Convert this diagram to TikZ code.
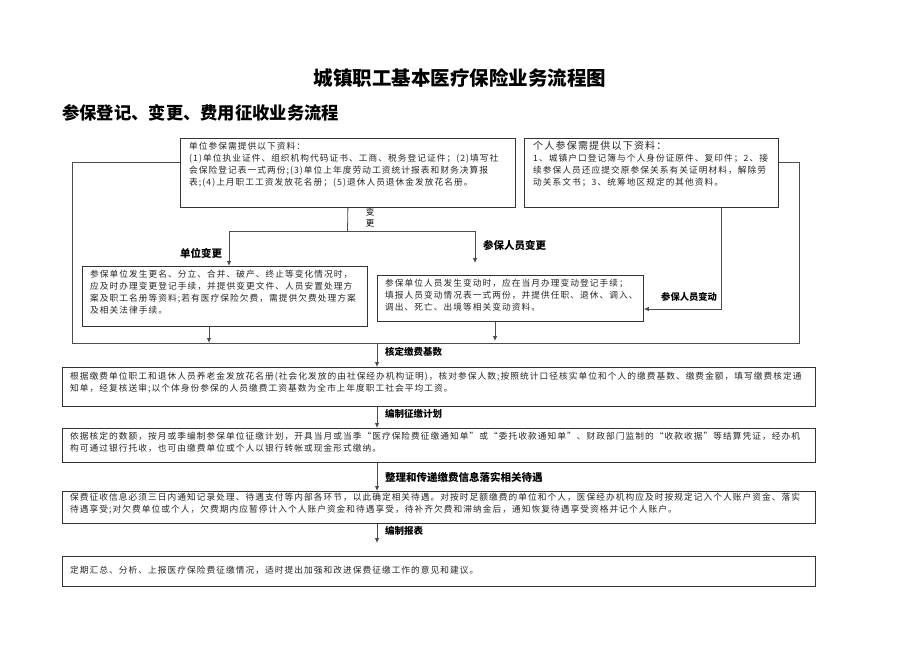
\documentclass[tikz,border=0pt]{standalone}
\usepackage{fontspec}
\setmainfont{Noto Sans CJK SC}
\newfontfamily\bodyfont[LetterSpace=12]{Noto Sans CJK SC}
\usetikzlibrary{arrows.meta}
\begin{document}
\begin{tikzpicture}[x=1pt,y=-1pt,
  box/.style={draw=black!80, line width=0.8pt, anchor=north west, inner sep=0pt, fill=white},
  txt/.style={anchor=north west, inner sep=0pt, align=left, font=\bodyfont\fontsize{8.7}{12}\selectfont, text=black!85},
  lbl/.style={inner sep=0pt, anchor=west, font=\bfseries\fontsize{9.5}{11}\selectfont},
  conn/.style={draw=black!70, line width=0.8pt},
  arr/.style={conn, -{Latex[length=5pt,width=4.5pt]}},
]
\useasboundingbox[fill=white] (0,0) rectangle (920,651);

% titles
\node[inner sep=0pt, font=\bfseries\fontsize{19.5}{22}\selectfont] (title) at (460,78) {城镇职工基本医疗保险业务流程图};
\node[inner sep=0pt, anchor=west, font=\bfseries\fontsize{17.3}{20}\selectfont] (sub) at (62,113) {参保登记、变更、费用征收业务流程};

% frame coordinates
\coordinate (fTL) at (72,162);
\coordinate (fBL) at (72,343);
\coordinate (fBR) at (799,343);
\coordinate (fTR) at (799,162);

% boxes
\node[box, minimum width=335pt, minimum height=69pt] (b1) at (180,138) {};
\node[box, minimum width=254pt, minimum height=69pt] (b2) at (524,138) {};
\node[box, minimum width=285pt, minimum height=60pt] (b3) at (82,266) {};
\node[box, minimum width=266pt, minimum height=46pt] (b4) at (377,275) {};
\node[box, minimum width=753pt, minimum height=39pt] (b5) at (62,367) {};
\node[box, minimum width=753pt, minimum height=34pt] (b6) at (62,428) {};
\node[box, minimum width=753pt, minimum height=32pt] (b7) at (62,491) {};
\node[box, minimum width=753pt, minimum height=30pt] (b8) at (62,556) {};

% frame around the change section
\path[conn] (b1.west |- fTL) -- (fTL) -- (fBL) -- (fBR) -- (fTR) -- (b2.east |- fTR);

% box texts
\node[txt] (t1) at ([shift={(9,3.5)}]b1.north west) {单位参保需提供以下资料：\\(1)单位执业证件、组织机构代码证书、工商、税务登记证件；(2)填写社\\会保险登记表一式两份;(3)单位上年度劳动工资统计报表和财务决算报\\表;(4)上月职工工资发放花名册；(5)退休人员退休金发放花名册。};
\node[txt] (t2) at ([shift={(9,2.5)}]b2.north west) {{\fontsize{10}{12}\selectfont 个人参保需提供以下资料：}\\1、城镇户口登记簿与个人身份证原件、复印件；2、接\\续参保人员还应提交原参保关系有关证明材料，解除劳\\动关系文书；3、统筹地区规定的其他资料。};
\node[txt] (t3) at ([shift={(8,3.5)}]b3.north west) {参保单位发生更名、分立、合并、破产、终止等变化情况时，\\应及时办理变更登记手续，并提供变更文件、人员安置处理方\\案及职工名册等资料;若有医疗保险欠费，需提供欠费处理方案\\及相关法律手续。};
\node[txt] (t4) at ([shift={(8,3.5)}]b4.north west) {参保单位人员发生变动时，应在当月办理变动登记手续；\\填报人员变动情况表一式两份，并提供任职、退休、调入、\\调出、死亡、出境等相关变动资料。};
\node[txt] (t5) at ([shift={(8,5)}]b5.north west) {根据缴费单位职工和退休人员养老金发放花名册(社会化发放的由社保经办机构证明)，核对参保人数;按照统计口径核实单位和个人的缴费基数、缴费金额，填写缴费核定通\\知单，经复核送审;以个体身份参保的人员缴费工资基数为全市上年度职工社会平均工资。};
\node[txt] (t6) at ([shift={(8,4)}]b6.north west) {依据核定的数额，按月或季编制参保单位征缴计划，开具当月或当季“医疗保险费征缴通知单”或“委托收款通知单”、财政部门监制的“收款收据”等结算凭证，经办机\\构可通过银行托收，也可由缴费单位或个人以银行转帐或现金形式缴纳。};
\node[txt] (t7) at ([shift={(8,1.5)}]b7.north west) {保费征收信息必须三日内通知记录处理、待遇支付等内部各环节，以此确定相关待遇。对按时足额缴费的单位和个人，医保经办机构应及时按规定记入个人账户资金、落实\\待遇享受;对欠费单位或个人，欠费期内应暂停计入个人账户资金和待遇享受，待补齐欠费和滞纳金后，通知恢复待遇享受资格并记个人账户。};
\node[txt] (t8) at ([shift={(8,9.5)}]b8.north west) {定期汇总、分析、上报医疗保险费征缴情况，适时提出加强和改进保费征缴工作的意见和建议。};

% change split
\coordinate (sp) at (347.5,231);
\coordinate (cL) at (229,231);
\coordinate (cR) at (475,231);
\coordinate (cRend) at (475,263);
\path[conn] (b1.south) -- (sp);
\path[conn] (cL) -- (cR);
\path[arr] (cL) -- (cL |- b3.north);
\path[arr] (cR) -- (cRend);
\node[inner sep=0pt, align=center, font=\fontsize{8.5}{10.5}\selectfont] (lbc) at (370,217.5) {变\\更};
\node[lbl, font=\bfseries\fontsize{10.5}{12}\selectfont] (lbu) at (180,253) {单位变更};
\node[lbl, font=\bfseries\fontsize{10.5}{12}\selectfont] (lbp) at (483,245) {参保人员变更};

% individual change
\coordinate (r1) at (721,309);
\path[arr] (b2.south -| r1) -- (r1) -- (r1 -| b4.east);
\node[lbl, font=\bfseries\fontsize{9.3}{11}\selectfont] (lbd) at (661,297) {参保人员变动};

% down to frame bottom
\coordinate (d3) at (209,343);
\coordinate (d4) at (495,341);
\path[arr] (d3 |- b3.south) -- (d3);
\path[arr] (d4 |- b4.south) -- (d4);

% main chain
\coordinate (d5) at (377,343);
\coordinate (d8) at (377,543);
\path[arr] (d5) -- (d5 |- b5.north);
\path[arr] (d5 |- b5.south) -- (d5 |- b6.north);
\path[arr] (d5 |- b6.south) -- (d5 |- b7.north);
\path[arr] (d5 |- b7.south) -- (d8);
\node[lbl] (l5) at (385,352) {核定缴费基数};
\node[lbl] (l6) at (385,414) {编制征缴计划};
\node[lbl, font=\bfseries\fontsize{10.5}{12}\selectfont] (l7) at (385,477) {整理和传递缴费信息落实相关待遇};
\node[lbl] (l8) at (385,531) {编制报表};
\end{tikzpicture}
\end{document}
